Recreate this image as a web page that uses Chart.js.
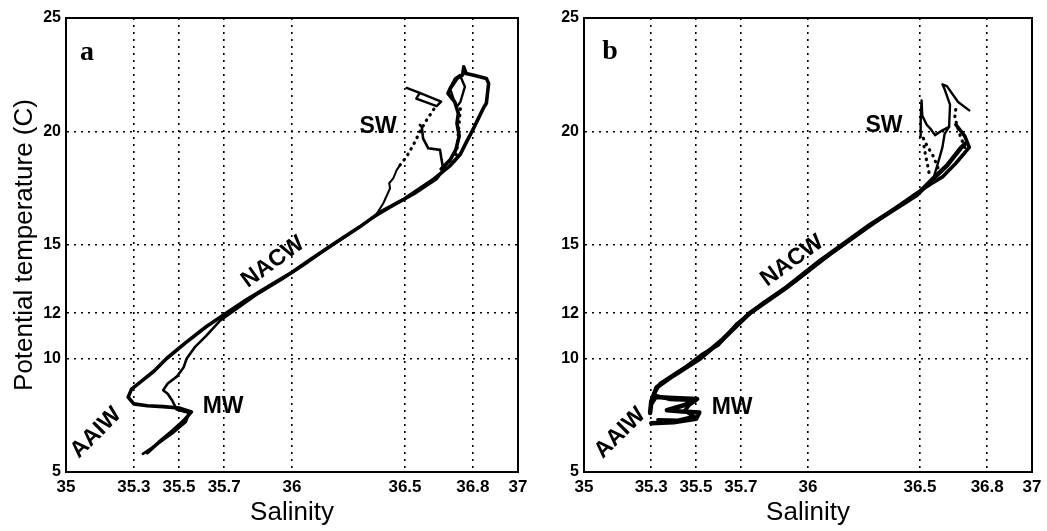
<!DOCTYPE html>
<html><head><meta charset="utf-8">
<script src="https://cdn.jsdelivr.net/npm/chart.js@4.4.0/dist/chart.umd.min.js"></script>
<style>
html,body{margin:0;padding:0;background:#fff;}
#wrap{position:relative;width:1047px;height:531px;overflow:hidden;}
.panel{position:absolute;top:0;}
</style></head><body>
<div id="wrap">
<div class="panel" style="left:0;width:540px;height:531px"><canvas id="ca" width="540" height="531"></canvas></div>
<div class="panel" style="left:520px;width:527px;height:531px"><canvas id="cb" width="527" height="531"></canvas></div>
</div>
<script>
// ---- axes ----
const salinityTicks = [35, 35.3, 35.5, 35.7, 36, 36.5, 36.8, 37];
const temperatureTicks = [5, 10, 12, 15, 20, 25];
const salinityRange = [35, 37];
const temperatureRange = [5, 25];

// ---- panel a : [salinity, potential temperature] ----
const aMain = [[35.36,5.85],[35.41,6.3],[35.47,6.8],[35.52,7.25],[35.555,7.65],[35.50,7.82],[35.43,7.88],[35.36,7.92],[35.30,8.0],[35.275,8.3],[35.29,8.65],[35.34,9.05],[35.39,9.45],[35.445,10.0],[35.53,10.7],[35.62,11.4],[35.71,12.0],[35.80,12.6],[35.90,13.2],[36.0,13.8],[36.08,14.35],[36.2,15.15],[36.3,15.8],[36.39,16.45],[36.5,17.05],[36.62,17.85],[36.70,18.5],[36.745,19.0],[36.77,19.5],[36.80,20.07],[36.85,21.09],[36.86,21.24],[36.87,22.12],[36.86,22.34],[36.80,22.49],[36.77,22.56],[36.76,22.85],[36.755,22.49],[36.73,22.34],[36.70,21.9],[36.69,21.68],[36.72,21.31],[36.736,20.8],[36.73,20.36],[36.74,19.8],[36.725,19.2],[36.70,18.75],[36.66,18.35]];
const aSecond = [[35.34,5.8],[35.40,6.2],[35.47,6.7],[35.53,7.2],[35.545,7.6],[35.49,7.75],[35.47,8.15],[35.45,8.45],[35.43,8.6],[35.45,8.9],[35.49,9.2],[35.52,9.6],[35.534,10.0],[35.57,10.5],[35.62,11.0],[35.68,11.65],[35.75,12.15],[35.85,12.85],[35.95,13.45],[36.05,14.1],[36.15,14.8],[36.25,15.45],[36.35,16.15],[36.45,16.75],[36.55,17.3],[36.64,17.9],[36.67,18.3],[36.662,18.74],[36.655,19.19],[36.603,19.26],[36.58,19.70],[36.574,20.22],[36.566,20.29]];
const aBranch = [[36.37,16.3],[36.404,16.84],[36.434,17.5],[36.43,17.72],[36.448,17.94],[36.463,18.3],[36.478,18.52]];
const aBranchDotted = [[36.478,18.52],[36.507,18.89],[36.537,19.41],[36.57,20.07],[36.596,20.51],[36.62,20.87],[36.635,21.09]];
const aSwBox = [[36.507,21.92],[36.565,21.70],[36.66,21.32],[36.64,21.12],[36.55,21.45],[36.565,21.70]];
const aInner = [[36.743,22.49],[36.765,21.97],[36.745,21.3],[36.729,21.09],[36.714,21.46],[36.699,21.9],[36.721,22.34],[36.743,22.49]];
const aUpperDotted = [[36.745,21.0],[36.74,20.4],[36.735,19.8],[36.73,19.2],[36.72,18.7]];

// ---- panel b ----
const bMain = [[35.30,7.15],[35.40,7.19],[35.50,7.34],[35.515,7.62],[35.44,7.66],[35.37,7.72],[35.45,7.95],[35.505,8.22],[35.40,8.26],[35.32,8.3],[35.30,8.0],[35.295,7.6],[35.30,8.1],[35.324,8.73],[35.40,9.25],[35.518,10.0],[35.62,10.85],[35.74,12.0],[35.90,13.1],[36.054,14.3],[36.277,15.89],[36.485,17.2],[36.56,17.94],[36.62,18.5],[36.68,19.25],[36.70,19.45]];
const bSecond = [[35.33,7.3],[35.42,7.28],[35.49,7.45],[35.45,7.7],[35.47,7.95],[35.50,8.15],[35.38,8.2],[35.31,8.4],[35.34,8.9],[35.45,9.6],[35.53,10.2],[35.60,10.6],[35.68,11.5],[35.80,12.45],[35.95,13.45],[36.10,14.6],[36.30,16.0],[36.48,17.25],[36.55,17.7],[36.60,18.0],[36.66,18.6],[36.72,19.3],[36.70,19.8],[36.66,20.3]];
const bRight = [[36.56,17.94],[36.58,18.6],[36.60,19.3],[36.61,19.9],[36.63,20.21],[36.634,21.18],[36.61,21.86],[36.60,22.08],[36.62,22.0],[36.67,21.30],[36.72,20.93]];
const bLeft = [[36.50,19.77],[36.503,20.5],[36.507,21.37],[36.51,20.7],[36.53,20.3],[36.545,20.14],[36.567,19.84],[36.60,20.05],[36.63,20.21]];
const bDottedLeft = [[36.58,18.4],[36.56,18.9],[36.53,19.4],[36.51,19.8]];
const bDottedLeft2 = [[36.54,18.2],[36.53,18.7],[36.52,19.2],[36.515,19.6]];
const bDottedRight = [[36.70,19.3],[36.68,19.8],[36.665,20.3],[36.655,20.6],[36.66,21.0]];

// ---- text annotations (data coordinates) ----
const aLabels = [
  {text:'a', s:35.093, t:23.45, angle:0, serif:true},
  {text:'SW', s:36.381, t:20.2, angle:0},
  {text:'NACW', s:35.916, t:14.25, angle:-36},
  {text:'MW', s:35.695, t:7.86, angle:0},
  {text:'AAIW', s:35.133, t:6.72, angle:-45}
];
const bLabels = [
  {text:'b', s:35.116, t:23.5, angle:0, serif:true},
  {text:'SW', s:36.339, t:20.26, angle:0},
  {text:'NACW', s:35.929, t:14.3, angle:-36},
  {text:'MW', s:35.661, t:7.85, angle:0},
  {text:'AAIW', s:35.161, t:6.71, angle:-45}
];

function solid(data, w) {
  return {data, showLine:true, pointRadius:0, borderColor:'#000', backgroundColor:'#000', borderWidth:w, tension:0, borderJoinStyle:'round', borderCapStyle:'round', fill:false};
}
function dotted(data) {
  return {data, showLine:true, pointRadius:0, borderColor:'#000', borderWidth:3.2, borderDash:[0.5,6], borderCapStyle:'round', tension:0, fill:false};
}

const framePlugin = {
  id:'frame',
  afterDraw(chart) {
    const {ctx, chartArea:{left, top, right, bottom}} = chart;
    ctx.save(); ctx.strokeStyle = '#000'; ctx.lineWidth = 2;
    ctx.strokeRect(left, top, right - left, bottom - top);
    ctx.restore();
  }
};
const labelPlugin = {
  id:'waterLabels',
  afterDatasetsDraw(chart, args, opts) {
    const xs = chart.scales.x, ys = chart.scales.y, ctx = chart.ctx;
    (opts.items || []).forEach(it => {
      ctx.save();
      ctx.translate(xs.getPixelForValue(it.s), ys.getPixelForValue(it.t));
      ctx.rotate(it.angle * Math.PI / 180);
      ctx.font = it.serif ? 'bold 28px "Liberation Serif", serif' : 'bold 23px "Liberation Sans", Arial, sans-serif';
      ctx.textAlign = 'center'; ctx.textBaseline = 'middle'; ctx.fillStyle = '#000';
      ctx.fillText(it.text, 0, 0);
      ctx.restore();
    });
  }
};

function makeChart(id, datasets, labels, yWidth, padRight, showYTitle) {
  return new Chart(document.getElementById(id), {
    type:'scatter',
    data:{datasets},
    plugins:[framePlugin, labelPlugin],
    options:{
      responsive:false, animation:false, events:[],
      layout:{padding:{top:18, right:padRight, bottom:0, left:0}},
      plugins:{legend:{display:false}, tooltip:{enabled:false}, waterLabels:{items:labels}},
      scales:{
        x:{
          type:'linear', min:salinityRange[0], max:salinityRange[1],
          afterBuildTicks:s => { s.ticks = salinityTicks.map(v => ({value:v})); },
          afterFit:s => { s.height = 59; s.paddingLeft = 0; s.paddingRight = 0; },
          grid:{color:'#000', lineWidth:1.6, drawTicks:false},
          border:{display:true, color:'#000', width:2, dash:[2,5]},
          ticks:{color:'#000', autoSkip:false, maxRotation:0, padding:5,
                 font:{family:'"Liberation Sans", Arial, sans-serif', weight:'bold', size:17},
                 callback:v => String(v)},
          title:{display:true, text:'Salinity', color:'#000',
                 font:{family:'"Liberation Sans", Arial, sans-serif', size:26, weight:'normal'},
                 padding:{top:0, bottom:3}}
        },
        y:{
          type:'linear', min:temperatureRange[0], max:temperatureRange[1],
          afterBuildTicks:s => { s.ticks = temperatureTicks.map(v => ({value:v})); },
          afterFit:s => { s.width = yWidth; s.paddingTop = 0; s.paddingBottom = 0; },
          grid:{color:'#000', lineWidth:1.6, drawTicks:false},
          border:{display:true, color:'#000', width:2, dash:[2,5]},
          ticks:{color:'#000', autoSkip:false, padding:5,
                 font:{family:'"Liberation Sans", Arial, sans-serif', weight:'bold', size:16},
                 callback:v => String(v)},
          title:{display:showYTitle, text:'Potential temperature (C)', color:'#000',
                 font:{family:'"Liberation Sans", Arial, sans-serif', size:26, weight:'normal'},
                 padding:{top:9, bottom:0}}
        }
      }
    }
  });
}

makeChart('ca', [
  solid(aMain, 3.6), solid(aSecond, 2.6), solid(aBranch, 2), dotted(aBranchDotted),
  solid(aSwBox, 2.4), solid(aInner, 2.4), dotted(aUpperDotted)
], aLabels, 66, 22, true);

makeChart('cb', [
  solid(bMain, 4.5), solid(bSecond, 3.6), solid(bRight, 2.4), solid(bLeft, 2.4),
  dotted(bDottedLeft), dotted(bDottedLeft2), dotted(bDottedRight)
], bLabels, 64, 15, false);
</script>
</body></html>
